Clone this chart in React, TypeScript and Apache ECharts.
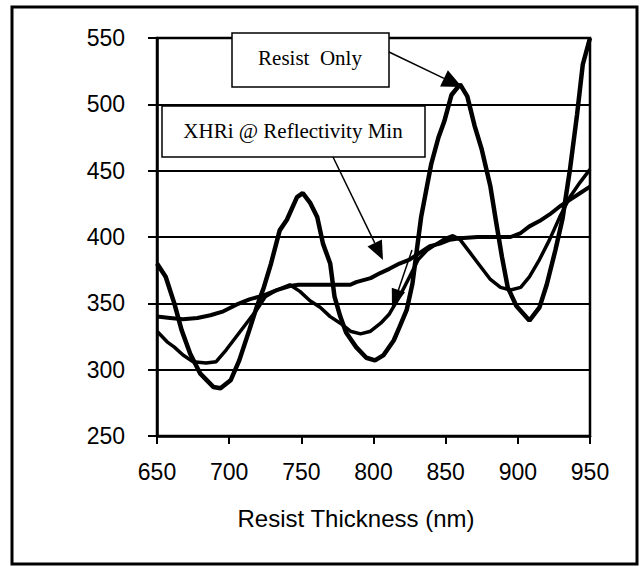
import React, { useEffect, useRef } from "react";
import * as echarts from "echarts";

// Resist Only (large swing)
const resistX = [650,656,662,667,673,680,689,694,701,707,714,719,724,729,735,740,747,751,756,761,765,770,773,777,781,788,795,801,807,814,818,823,827,830,833,837,840,845,849,854,860,865,870,875,881,885,889,893,899,908,915,920,926,931,936,941,945,950];
const resistY = [380,370,350,330,312,297,287,286,292,307,330,347,362,380,405,413,430,433,426,415,395,380,355,340,328,317,309,307,311,322,332,345,365,390,415,438,455,475,487,507,515,506,484,466,438,411,385,362,348,337,347,364,390,414,450,492,530,550];

// medium swing curve
const midX = [650,657,662,668,675,684,691,698,705,712,719,725,733,742,749,756,763,770,777,784,791,798,805,811,818,825,831,837,844,850,855,860,867,874,881,888,895,902,908,915,922,929,936,943,950];
const midY = [329,321,317,311,306,305,306,315,325,335,345,355,360,364,359,352,347,340,335,329,327,329,335,342,355,370,383,390,395,399,401,398,388,378,368,362,360,362,370,383,398,415,430,441,451];

// XHRi @ Reflectivity Min
const xhriX = [650,659,668,678,687,696,705,714,724,733,742,748,756,770,784,788,798,805,811,818,825,832,839,846,853,860,872,881,895,902,908,915,922,929,936,943,950];
const xhriY = [340,339,338,339,341,344,349,353,356,360,363,364,364,364,364,366,369,373,376,380,383,388,393,395,398,399,400,400,400,403,408,412,417,423,428,433,438];

const xTicks = { min: 650, max: 950, interval: 50 };
const yTicks = { min: 250, max: 550, interval: 50 };

const xTitle = "Resist Thickness (nm)";
const label1 = "Resist  Only";
const label2 = "XHRi @ Reflectivity Min";

function pairs(xs: number[], ys: number[]) {
  return xs.map((x, i) => [x, ys[i]]);
}

function arrow(fx: number, fy: number, tx: number, ty: number, len: number, hw: number) {
  const dx = tx - fx, dy = ty - fy;
  const d = Math.sqrt(dx * dx + dy * dy);
  const ux = dx / d, uy = dy / d;
  const bx = tx - ux * len, by = ty - uy * len;
  const px = -uy, py = ux;
  return [
    { type: "line", z: 20, shape: { x1: fx, y1: fy, x2: bx, y2: by }, style: { stroke: "#000", lineWidth: 1.5 } },
    {
      type: "polygon", z: 20,
      shape: { points: [[tx, ty], [bx + px * hw, by + py * hw], [bx - px * hw, by - py * hw]] },
      style: { fill: "#000" },
    },
  ];
}

export default function App() {
  const ref = useRef<HTMLDivElement>(null);
  useEffect(() => {
    if (!ref.current) return;
    const chart = echarts.init(ref.current, undefined, { renderer: "svg" });
    const sans = "'Liberation Sans', Arial, sans-serif";
    const serif = "'Liberation Serif', 'Times New Roman', serif";
    chart.setOption({
      animation: false,
      backgroundColor: "#fff",
      grid: { left: 157, top: 38, width: 433, height: 398, show: true, borderColor: "#000", borderWidth: 2.5 },
      xAxis: {
        type: "value",
        min: xTicks.min, max: xTicks.max, interval: xTicks.interval,
        axisLine: { show: true, lineStyle: { color: "#000", width: 2.5 } },
        axisTick: { show: true, length: 8, lineStyle: { color: "#000", width: 2 } },
        axisLabel: { color: "#000", fontSize: 23, fontFamily: sans, margin: 24 },
        splitLine: { show: false },
      },
      yAxis: {
        type: "value",
        min: yTicks.min, max: yTicks.max, interval: yTicks.interval,
        axisLine: { show: true, lineStyle: { color: "#000", width: 2.5 } },
        axisTick: { show: true, length: 9, lineStyle: { color: "#000", width: 2 } },
        axisLabel: { color: "#000", fontSize: 23, fontFamily: sans, margin: 32 },
        splitLine: { show: true, lineStyle: { color: "#000", width: 2 } },
      },
      series: [
        { name: "Resist Only", type: "line", data: pairs(resistX, resistY), showSymbol: false, symbol: "none", lineStyle: { color: "#000", width: 4.5 } },
        { name: "Mid", type: "line", data: pairs(midX, midY), showSymbol: false, symbol: "none", lineStyle: { color: "#000", width: 3.5 } },
        { name: "XHRi", type: "line", data: pairs(xhriX, xhriY), showSymbol: false, symbol: "none", lineStyle: { color: "#000", width: 4 } },
      ],
      graphic: [
        { type: "rect", z: 0, shape: { x: 12, y: 7, width: 625, height: 557 }, style: { fill: "none", stroke: "#000", lineWidth: 3 } },
        {
          type: "text", z: 20, x: 356, y: 518,
          style: { text: xTitle, font: `24px ${sans}`, fill: "#000", textAlign: "center", textVerticalAlign: "middle" },
        },
        { type: "rect", z: 20, shape: { x: 232, y: 33, width: 157, height: 54 }, style: { fill: "#fff", stroke: "#000", lineWidth: 1.5 } },
        {
          type: "text", z: 21, x: 310, y: 58,
          style: { text: label1, font: `21px ${serif}`, fill: "#000", textAlign: "center", textVerticalAlign: "middle" },
        },
        { type: "rect", z: 20, shape: { x: 162, y: 106, width: 263, height: 51 }, style: { fill: "#fff", stroke: "#000", lineWidth: 1.5 } },
        {
          type: "text", z: 21, x: 293, y: 131,
          style: { text: label2, font: `21px ${serif}`, fill: "#000", textAlign: "center", textVerticalAlign: "middle" },
        },
        ...arrow(389, 52, 462, 87, 20, 9),
        ...arrow(333, 157, 383, 260, 19, 8),
        ...arrow(412, 250, 392, 309, 20, 7),
      ],
    });
    return () => chart.dispose();
  }, []);
  return <div ref={ref} style={{ position: "absolute", left: 0, top: 0, width: 641, height: 567 }} />;
}
